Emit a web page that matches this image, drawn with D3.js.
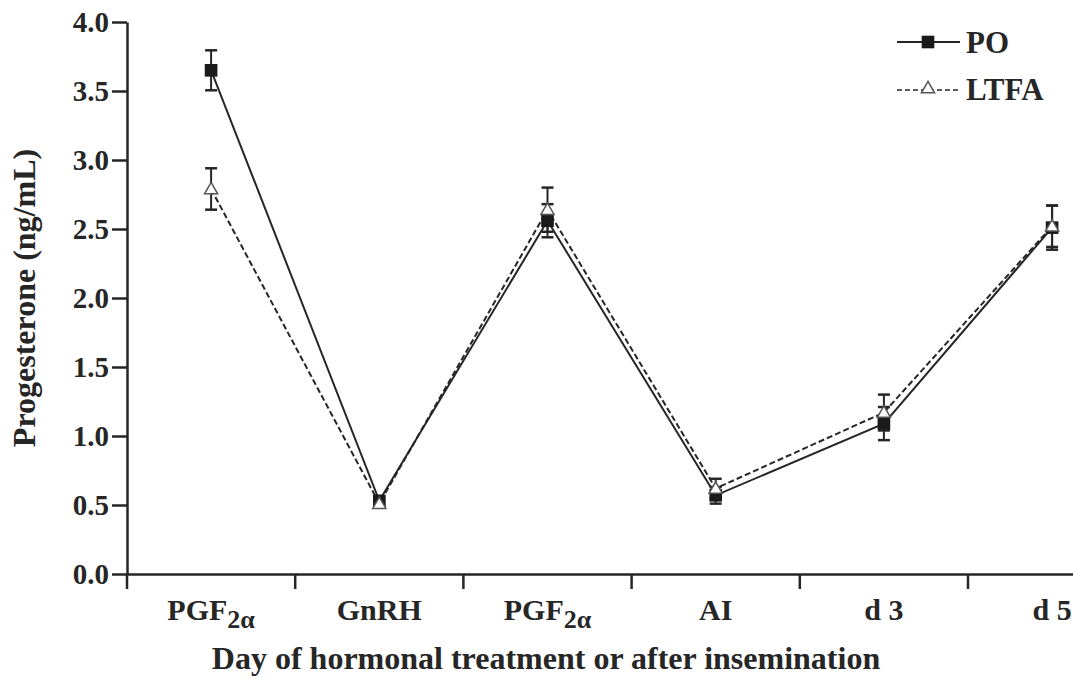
<!DOCTYPE html>
<html>
<head>
<meta charset="utf-8">
<script src="https://cdn.jsdelivr.net/npm/d3@7"></script>
<style>
  body { margin: 0; background: #fff; }
  text { font-family: "Liberation Serif", "Times New Roman", serif; font-weight: bold; fill: #262626; }
</style>
</head>
<body>
<div id="canvas"></div>
<script>
"use strict"

/* drawing size */
let svgWidth = 1073;
let svgHeight = 678;

/* data */
let categories = ["PGF_a", "GnRH", "PGF_b", "AI", "d 3", "d 5"];
let categoryLabels = [["PGF", "2α"], ["GnRH", ""], ["PGF", "2α"], ["AI", ""], ["d 3", ""], ["d 5", ""]];
let poMeans = [3.65, 0.53, 2.56, 0.57, 1.09, 2.51];
let poErrors = [0.145, 0.03, 0.12, 0.06, 0.12, 0.16];
let ltfaMeans = [2.79, 0.51, 2.64, 0.62, 1.17, 2.52];
let ltfaErrors = [0.15, 0.02, 0.16, 0.07, 0.13, 0.15];
let yTicks = [0, 0.5, 1, 1.5, 2, 2.5, 3, 3.5, 4];

let ink = "#262626";

let svg = d3.select("#canvas")
    .append("svg")
    .attr("width", svgWidth)
    .attr("height", svgHeight);

/* scales: the plot runs past the right edge like the original crop */
let xScale = d3.scaleBand()
    .domain(categories)
    .range([127, 127 + 6 * 168.2])
    .padding(0);

let yScale = d3.scaleLinear()
    .domain([0, 4])
    .range([574, 22]);

function cx(i) {
    return xScale(categories[i]) + xScale.bandwidth() / 2;
}

/**** axes ****/

// y axis
let yAxis = svg.append("g")
    .attr("transform", "translate(127,0)")
    .call(d3.axisLeft(yScale)
        .tickValues(yTicks)
        .tickFormat(d3.format(".1f"))
        .tickSize(15)
        .tickSizeOuter(0)
        .tickPadding(3));

yAxis.select(".domain").attr("stroke", ink).attr("stroke-width", 2.5);
yAxis.selectAll(".tick line").attr("stroke", ink).attr("stroke-width", 2.5);
yAxis.selectAll(".tick text")
    .attr("fill", ink)
    .style("font-size", "29px")
    .style("font-family", "Liberation Serif")
    .style("font-weight", "bold")
    .attr("dy", "0.34em");

// x axis: labels at band centres, ticks on band edges
let xAxis = svg.append("g")
    .attr("transform", "translate(0,574)")
    .call(d3.axisBottom(xScale)
        .tickSize(0)
        .tickSizeOuter(0)
        .tickFormat(""));

xAxis.select(".domain").attr("stroke", ink).attr("stroke-width", 2.5);

xAxis.selectAll(".edge")
    .data(categories)
    .join("line")
    .attr("class", "edge")
    .attr("x1", function (d) { return xScale(d); })
    .attr("x2", function (d) { return xScale(d); })
    .attr("y1", 0)
    .attr("y2", 15)
    .attr("stroke", ink)
    .attr("stroke-width", 2.5);

let xLabels = xAxis.selectAll(".xlab")
    .data(categories)
    .join("text")
    .attr("class", "xlab")
    .attr("x", function (d) { return xScale(d) + xScale.bandwidth() / 2; })
    .attr("y", 46)
    .attr("text-anchor", "middle")
    .style("font-size", "30px");

xLabels.each(function (d, i) {
    let t = d3.select(this);
    t.append("tspan").text(categoryLabels[i][0]);
    if (categoryLabels[i][1] !== "") {
        t.append("tspan")
            .attr("dy", 8)
            .style("font-size", "26px")
            .text(categoryLabels[i][1]);
    }
});

// axis titles
svg.append("text")
    .attr("x", 546)
    .attr("y", 669)
    .attr("text-anchor", "middle")
    .style("font-size", "32px")
    .text("Day of hormonal treatment or after insemination");

svg.append("text")
    .attr("transform", "translate(35,298) rotate(-90)")
    .attr("text-anchor", "middle")
    .style("font-size", "32px")
    .text("Progesterone (ng/mL)");

/**** series ****/

let lineGen = d3.line()
    .x(function (d, i) { return cx(i); })
    .y(function (d) { return yScale(d); });

svg.append("path")
    .datum(ltfaMeans)
    .attr("d", lineGen)
    .attr("fill", "none")
    .attr("stroke", ink)
    .attr("stroke-width", 2)
    .attr("stroke-dasharray", "6,3");

svg.append("path")
    .datum(poMeans)
    .attr("d", lineGen)
    .attr("fill", "none")
    .attr("stroke", ink)
    .attr("stroke-width", 2);

// error bars
function drawErrors(means, errors) {
    let g = svg.append("g");
    g.selectAll("line.v")
        .data(means)
        .join("line")
        .attr("class", "v")
        .attr("x1", function (d, i) { return cx(i); })
        .attr("x2", function (d, i) { return cx(i); })
        .attr("y1", function (d, i) { return yScale(d + errors[i]); })
        .attr("y2", function (d, i) { return yScale(d - errors[i]); })
        .attr("stroke", ink)
        .attr("stroke-width", 2);
    [1, -1].forEach(function (s) {
        g.selectAll("line.cap" + (s > 0 ? "t" : "b"))
            .data(means)
            .join("line")
            .attr("class", "cap" + (s > 0 ? "t" : "b"))
            .attr("x1", function (d, i) { return cx(i) - 6; })
            .attr("x2", function (d, i) { return cx(i) + 6; })
            .attr("y1", function (d, i) { return yScale(d + s * errors[i]); })
            .attr("y2", function (d, i) { return yScale(d + s * errors[i]); })
            .attr("stroke", ink)
            .attr("stroke-width", 2.5);
    });
}
drawErrors(ltfaMeans, ltfaErrors);
drawErrors(poMeans, poErrors);

// markers
let squareSym = d3.symbol().type(d3.symbolSquare).size(160);
let triSym = d3.symbol().type(d3.symbolTriangle).size(75);

svg.selectAll(".po")
    .data(poMeans)
    .join("path")
    .attr("class", "po")
    .attr("d", squareSym)
    .attr("transform", function (d, i) { return "translate(" + cx(i) + "," + yScale(d) + ")"; })
    .attr("fill", "#1a1a1a");

svg.selectAll(".ltfa")
    .data(ltfaMeans)
    .join("path")
    .attr("class", "ltfa")
    .attr("d", triSym)
    .attr("transform", function (d, i) { return "translate(" + cx(i) + "," + (yScale(d) + 1) + ")"; })
    .attr("fill", "white")
    .attr("stroke", "#555")
    .attr("stroke-width", 1.5);

/**** legend ****/

svg.append("line")
    .attr("x1", 897).attr("x2", 960)
    .attr("y1", 42).attr("y2", 42)
    .attr("stroke", ink)
    .attr("stroke-width", 2);
svg.append("path")
    .attr("d", squareSym)
    .attr("transform", "translate(928,42)")
    .attr("fill", "#1a1a1a");
svg.append("text")
    .attr("x", 966)
    .attr("y", 53)
    .style("font-size", "31px")
    .text("PO");

svg.append("line")
    .attr("x1", 897).attr("x2", 960)
    .attr("y1", 90).attr("y2", 90)
    .attr("stroke", ink)
    .attr("stroke-width", 1.5)
    .attr("stroke-dasharray", "5,3");
svg.append("path")
    .attr("d", triSym)
    .attr("transform", "translate(928,89)")
    .attr("fill", "white")
    .attr("stroke", "#555")
    .attr("stroke-width", 1.5);
svg.append("text")
    .attr("x", 966)
    .attr("y", 100)
    .style("font-size", "31px")
    .text("LTFA");
</script>
</body>
</html>
